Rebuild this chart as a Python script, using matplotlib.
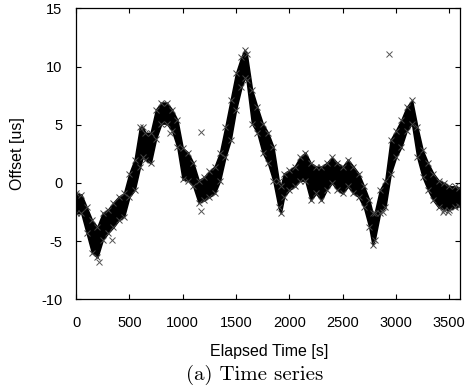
import matplotlib
matplotlib.use("Agg")
import matplotlib.pyplot as plt

# Elapsed time samples [s] and band envelope of the offset cloud [us]
times = [0, 50, 100, 150, 200, 250, 300, 350, 400, 450, 500, 550, 600, 625, 650,
         700, 750, 800, 850, 900, 950, 1000, 1050, 1100, 1150, 1200, 1250, 1300,
         1350, 1400, 1450, 1500, 1550, 1580, 1600, 1650, 1700, 1750, 1800, 1850,
         1900, 1920, 1950, 2000, 2050, 2100, 2150, 2200, 2250, 2300, 2350, 2400,
         2450, 2500, 2550, 2600, 2650, 2700, 2750, 2780, 2800, 2850, 2900, 2950,
         3000, 3050, 3100, 3150, 3200, 3250, 3300, 3350, 3400, 3450, 3500, 3550, 3590]
upper = [-0.9, -1.0, -2.1, -3.2, -3.8, -2.6, -2.3, -1.7, -1.2, -0.9, 0.8, 2.0, 4.8, 4.8, 4.3,
         4.3, 6.3, 6.9, 6.9, 6.3, 5.4, 3.0, 2.6, 1.7, 0.2, 0.5, 1.0, 1.4,
         2.6, 4.8, 7.1, 9.4, 10.8, 11.4, 11.1, 8.0, 6.5, 5.1, 4.3, 3.1,
         0.2, -0.3, 0.8, 1.1, 1.4, 2.2, 2.6, 1.7, 1.4, 1.4, 1.7, 2.2,
         1.7, 1.4, 2.0, 1.4, 0.8, -0.3, -1.5, -2.6, -2.6, -0.6, 0.2, 3.7,
         4.5, 5.4, 6.5, 7.1, 4.8, 2.8, 1.7, 0.8, 0.2, 0.0, -0.3, -0.3, -0.4]
lower = [-2.6, -2.6, -4.3, -6.0, -6.4, -4.9, -4.3, -3.8, -3.2, -2.9, -1.2, -0.6, 1.4, 2.2, 2.0,
         1.7, 3.8, 5.1, 5.1, 4.5, 3.1, 0.3, 0.2, -0.3, -1.7, -1.5, -1.2, -0.9,
         0.2, 2.2, 3.7, 6.3, 8.2, 9.0, 8.8, 5.1, 4.3, 2.6, 1.7, 0.2,
         -2.1, -2.6, -1.2, -0.6, -0.3, 0.2, 0.2, -1.5, -0.9, -1.5, -0.6, 0.0,
         -0.6, -0.9, -0.3, -0.9, -1.2, -2.1, -3.8, -5.3, -4.9, -2.6, -2.1, 0.8,
         2.2, 3.1, 4.5, 5.1, 2.2, 0.5, -0.6, -1.5, -2.1, -2.3, -2.3, -2.1, -2.0]

# isolated samples away from the band
out_t = [219, 335, 881, 1169, 1169, 2881, 2937, 3444, 3490]
out_v = [-6.8, -4.9, 4.3, 4.4, -2.4, -2.5, 11.1, -2.5, -2.5]

xticks = [0, 500, 1000, 1500, 2000, 2500, 3000, 3500]
yticks = [-10, -5, 0, 5, 10, 15]

plt.rcParams['axes.unicode_minus'] = False
plt.rcParams['font.family'] = ['Liberation Sans', 'DejaVu Sans']

fig = plt.figure(figsize=(4.76, 3.88), dpi=100)
ax = fig.add_axes([0.1597, 0.2286, 0.8067, 0.75])

ax.fill_between(times, lower, upper, color='black', linewidth=1.2, edgecolor='black')
ax.plot(times, upper, linestyle='none', marker='x', markersize=5, mew=0.7, color='#444444')
ax.plot(times, lower, linestyle='none', marker='x', markersize=5, mew=0.7, color='#444444')
ax.plot(out_t, out_v, linestyle='none', marker='x', markersize=4.5, mew=0.7, color='#555555')

ax.set_xlim(0, 3600)
ax.set_ylim(-10, 15)
ax.set_xticks(xticks)
ax.set_yticks(yticks)
ax.tick_params(direction='in', length=3.5, width=0.8, top=True, right=True,
               labelsize=10.5, colors='black')
ax.tick_params(axis='x', pad=12)
ax.tick_params(axis='y', pad=10)
for s in ax.spines.values():
    s.set_linewidth(0.9)

fig.text(0.565, 0.0928, 'Elapsed Time [s]', ha='center', va='center', fontsize=11.5)
fig.text(0.036, 0.603, 'Offset [us]', ha='center', va='center', rotation=90, fontsize=11.5)
fig.text(0.536, 0.034, '(a) Time series', ha='center', va='center', fontsize=15,
         family=['cmr10', 'DejaVu Serif'])

fig.savefig('out.png', dpi=100)
